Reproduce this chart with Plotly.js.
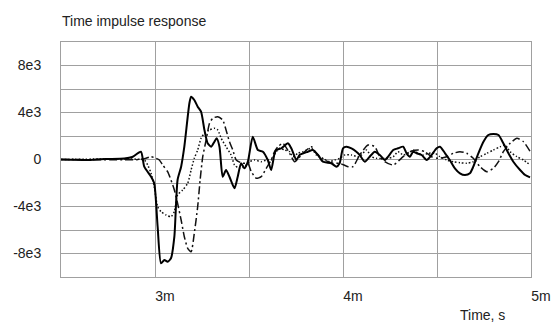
<!DOCTYPE html>
<html><head><meta charset="utf-8">
<script src="https://cdn.plot.ly/plotly-3.0.1.min.js"></script>
<style>html,body{margin:0;padding:0;background:#fff}</style>
</head><body><div id="chart" style="width:557px;height:323px"></div>
<script>
// time in ms, values in response units
var solidT = [2.5,2.649,2.708,2.755,2.836,2.879,2.925,2.943,2.979,2.996,3.014,3.032,3.050,3.067,3.085,3.103,3.120,3.139,3.156,3.183,3.192,3.209,3.227,3.245,3.263,3.280,3.299,3.316,3.328,3.343,3.360,3.378,3.396,3.423,3.440,3.458,3.476,3.494,3.520,3.547,3.574,3.600,3.618,3.636,3.645,3.672,3.707,3.725,3.752,3.769,3.813,3.840,3.867,3.893,3.938,3.965,3.982,4.000,4.018,4.045,4.071,4.089,4.116,4.142,4.169,4.196,4.222,4.240,4.267,4.293,4.320,4.338,4.356,4.373,4.392,4.418,4.445,4.471,4.498,4.516,4.543,4.568,4.595,4.622,4.649,4.675,4.693,4.720,4.747,4.773,4.800,4.827,4.853,4.880,4.906,4.942,4.969,4.995];
var solidV = [0,-40,20,40,85,210,660,-613,-1464,-2026,-5719,-8833,-8553,-8697,-8408,-6570,-1745,-613,1089,4783,5344,5063,4493,4068,2510,1379,1089,1515,1804,1089,-1464,-894,-1464,-2451,-1464,-323,-749,-187,1940,808,664,-43,-894,528,808,953,1379,953,-43,383,664,808,383,-187,-323,-613,-323,953,1089,953,664,383,-187,238,664,383,-43,238,808,953,1089,528,238,664,528,383,-43,383,953,1089,528,-43,-749,-1174,-1319,-1174,-613,528,1515,2085,2170,2085,1379,528,-187,-894,-1319,-1515];

var dotT = [2.5,2.708,2.868,2.943,2.961,2.979,2.996,3.014,3.032,3.059,3.085,3.103,3.120,3.147,3.174,3.192,3.209,3.227,3.245,3.263,3.290,3.316,3.334,3.352,3.378,3.405,3.423,3.449,3.476,3.503,3.530,3.565,3.592,3.618,3.645,3.663,3.690,3.716,3.734,3.760,3.787,3.832,3.858,3.893,3.929,3.956,3.982,4.009,4.045,4.080,4.098,4.125,4.151,4.178,4.240,4.267,4.293,4.320,4.347,4.373,4.400,4.427,4.453,4.489,4.516,4.551,4.587,4.622,4.658,4.693,4.729,4.765,4.800,4.836,4.862,4.889,4.925,4.960,4.996];
var dotV = [0,40,40,-43,-468,-1174,-2315,-4017,-4442,-4723,-4868,-4442,-3021,-2596,-2025,-894,102,808,1804,2230,2510,2655,2510,1804,1089,383,-468,-749,-613,-187,-43,-187,-43,-43,664,953,808,664,238,528,664,953,383,102,-187,-43,102,383,383,238,383,808,238,102,102,238,664,383,528,808,528,383,528,528,238,-43,-187,-272,-323,-187,238,528,808,1089,1234,664,238,-43,-468];

var dashT = [2.5,2.916,2.948,2.979,3.005,3.023,3.041,3.067,3.085,3.103,3.120,3.139,3.156,3.174,3.192,3.209,3.227,3.240,3.254,3.272,3.290,3.307,3.334,3.360,3.378,3.396,3.414,3.432,3.467,3.494,3.512,3.539,3.565,3.592,3.618,3.636,3.654,3.680,3.716,3.743,3.787,3.832,3.858,3.902,3.947,3.982,4.027,4.053,4.089,4.133,4.169,4.196,4.222,4.267,4.320,4.356,4.400,4.436,4.471,4.507,4.551,4.587,4.622,4.658,4.693,4.729,4.765,4.800,4.827,4.853,4.889,4.925,4.960,4.996];
var dashV = [0,0,85,238,102,-43,-468,-1038,-1745,-2596,-3727,-5149,-6570,-7557,-7846,-6280,-4017,-1745,238,1659,3081,3506,3642,3361,2510,1515,808,-43,-323,-323,-1038,-1600,-1464,-749,-43,664,1089,1379,528,-187,528,1089,528,-43,-323,-323,-613,-613,383,1234,1089,238,-187,-468,238,664,808,664,238,102,238,528,664,528,102,-613,-1038,-749,-187,664,1379,1804,1515,664];

var xTickVals = [3,4,5];
var xTickText = ['3m','4m','5m'];
var yTickVals = [-8000,-4000,0,4000,8000];
var yTickText = ['-8e3','-4e3','0','4e3','8e3'];
var chartTitle = 'Time impulse response';
var xTitle = 'Time, s';

var traces = [
  {x: dotT, y: dotV, mode:'lines', line:{color:'#111', width:1.5, dash:'1.5px,2px', shape:'spline', smoothing:0.6}, hoverinfo:'skip'},
  {x: dashT, y: dashV, mode:'lines', line:{color:'#111', width:1.5, dash:'8px,3px,2px,3px', shape:'spline', smoothing:0.6}, hoverinfo:'skip'},
  {x: solidT, y: solidV, mode:'lines', line:{color:'#000', width:2, shape:'spline', smoothing:0.6}, hoverinfo:'skip'}
];

var fontFam = 'Liberation Sans, Arial, sans-serif';
var layout = {
  width:557, height:323,
  margin:{l:61, r:26, t:42, b:46},
  paper_bgcolor:'#fff', plot_bgcolor:'#fff',
  showlegend:false,
  font:{family:fontFam, size:14, color:'#222'},
  title:{text:chartTitle, x:62/557, xanchor:'left', xref:'container', y:1-21/323, yanchor:'middle', font:{family:fontFam, size:14, color:'#222'}},
  xaxis:{range:[2.5,5], tickvals:xTickVals, ticktext:xTickText, showgrid:false, zeroline:false,
         showline:true, mirror:true, linecolor:'#a0a0a0', linewidth:1, ticks:'', ticklabelshift:10, ticklabelstandoff:6,
         tickfont:{size:14, color:'#222'}},
  xaxis2:{range:[2.5,5], overlaying:'x', dtick:0.5, tick0:2.5, showgrid:true, gridcolor:'#a0a0a0', gridwidth:1, showticklabels:false, zeroline:false, matches:'x'},
  yaxis:{range:[-10000,10000], tickvals:yTickVals, ticktext:yTickText, showgrid:false, zeroline:false,
         showline:true, mirror:true, linecolor:'#a0a0a0', linewidth:1, ticks:'', ticklabelstandoff:16,
         tickfont:{size:14, color:'#222'}},
  shapes:[],
  annotations:[{text:xTitle, xref:'paper', yref:'paper', x:(482-61)/470, y:-(315-277)/235, xanchor:'center', yanchor:'middle', showarrow:false, font:{family:fontFam, size:14, color:'#222'}}]
};
// gridlines every 0.5 ms and every 2000 units drawn via a grid-only overlay axis pair
layout.xaxis.showgrid = true; layout.xaxis.gridcolor='#a0a0a0';
delete layout.xaxis2;
var gridX = [2.5,3,3.5,4,4.5,5];
var gridY = [-10000,-8000,-6000,-4000,-2000,0,2000,4000,6000,8000,10000];
layout.xaxis3 = {overlaying:'x', range:[2.5,5], tickvals:gridX, showticklabels:false, showgrid:true, gridcolor:'#a0a0a0', zeroline:false, ticks:''};
layout.yaxis3 = {overlaying:'y', range:[-10000,10000], tickvals:gridY, showticklabels:false, showgrid:true, gridcolor:'#a0a0a0', zeroline:false, ticks:''};
layout.xaxis.showgrid = false;
traces.unshift({x:[2.5], y:[0], xaxis:'x3', yaxis:'y3', mode:'markers', marker:{opacity:0}, hoverinfo:'skip'});
Plotly.newPlot('chart', traces, layout, {staticPlot:true, displayModeBar:false});
</script></body></html>
